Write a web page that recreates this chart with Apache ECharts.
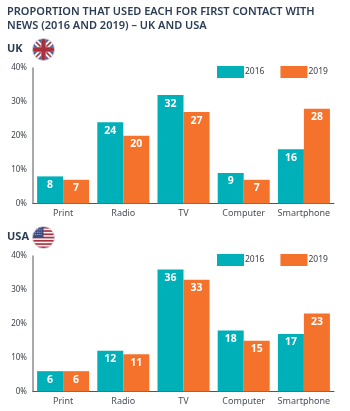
<!DOCTYPE html>
<html lang="en">
    <head>
        <meta charset="UTF-8">
        <script src="https://cdn.jsdelivr.net/npm/echarts@6/dist/echarts.min.js"></script>
        <title>First contact with news - UK and USA</title>
        <style>
            html, body { margin: 0; padding: 0; background: #fff; }
        </style>
    </head>
    <body>
        <div id="chart-container" style="width: 350px; height: 411px;"></div>

        <script>
            // values as printed on the bars
            const categories = ['Print', 'Radio', 'TV', 'Computer', 'Smartphone'];
            const years = ['2016', '2019'];
            const uk2016 = [8, 24, 32, 9, 16];
            const uk2019 = [7, 20, 27, 7, 28];
            const usa2016 = [6, 12, 36, 18, 17];
            const usa2019 = [6, 11, 33, 15, 23];

            const titleLines = 'PROPORTION THAT USED EACH FOR FIRST CONTACT WITH\nNEWS (2016 AND 2019) \u2013 UK AND USA';

            const teal = '#00b0b9';
            const orange = '#f4722b';
            const navy = '#2b3d55';
            const fontName = '"Noto Sans", sans-serif';

            // flags are just pictures, so inline svg is enough
            const ukFlag = 'data:image/svg+xml,' + encodeURIComponent(
                '<svg xmlns="http://www.w3.org/2000/svg" width="24" height="24" viewBox="0 0 24 24">' +
                '<defs><clipPath id="c"><circle cx="12" cy="12" r="11.5"/></clipPath></defs>' +
                '<g clip-path="url(#c)"><rect width="24" height="24" fill="#f2f2f4"/>' +
                '<path d="M5 1L10 6V1ZM14 1V6L19 1ZM1 5V10H6ZM23 5L18 10H23ZM1 14V19L6 14ZM18 14L23 19V14ZM5 23H10V18ZM14 18V23H19Z" fill="#5a6796"/>' +
                '<path d="M2 2L9 9M22 2L15 9M2 22L9 15M22 22L15 15" stroke="#b03a48" stroke-width="1.6"/>' +
                '<path d="M12 0V24M0 12H24" stroke="#a92f3d" stroke-width="4.5"/></g>' +
                '<circle cx="12" cy="12" r="11.5" fill="none" stroke="#d8d8dc" stroke-width="1"/></svg>');

            let usaStripes = '';
            for (let i = 0; i < 7; i++) {
                usaStripes += '<rect y="' + (1 + i * 3.4) + '" width="24" height="1.7" fill="#a92f3d"/>';
            }
            const usaFlag = 'data:image/svg+xml,' + encodeURIComponent(
                '<svg xmlns="http://www.w3.org/2000/svg" width="24" height="24" viewBox="0 0 24 24">' +
                '<defs><clipPath id="c"><circle cx="12" cy="12" r="11.5"/></clipPath></defs>' +
                '<g clip-path="url(#c)"><rect width="24" height="24" fill="#f2f2f4"/>' + usaStripes +
                '<rect width="12" height="12" fill="#3b4a80"/>' +
                '<path d="M3 4H11M3 6.5H11M3 9H11" stroke="#c9cde0" stroke-width="0.9" stroke-dasharray="1 1"/></g>' +
                '<circle cx="12" cy="12" r="11.5" fill="none" stroke="#d8d8dc" stroke-width="1"/></svg>');

            function makeGrid(top) {
                return { left: 33, width: 301, top: top, height: 135.5 };
            }

            function makeXAxis(gridIndex) {
                return {
                    type: 'category',
                    gridIndex: gridIndex,
                    data: categories,
                    axisLine: { lineStyle: { color: '#555', width: 1 } },
                    axisTick: { show: false },
                    axisLabel: { color: '#4a4f57', fontFamily: fontName, fontSize: 9, margin: 5, interval: 0 }
                };
            }

            function makeYAxis(gridIndex) {
                return {
                    type: 'value',
                    gridIndex: gridIndex,
                    min: 0,
                    max: 40,
                    interval: 10,
                    axisLine: { show: true, lineStyle: { color: '#8c8c8c', width: 1.5 } },
                    axisTick: { show: false },
                    splitLine: { show: false },
                    axisLabel: {
                        color: '#3a3f47',
                        fontFamily: fontName,
                        fontSize: 8,
                        margin: 6,
                        padding: [4, 0, 0, 0],
                        formatter: '{value}%'
                    }
                };
            }

            function makeSeries(name, values, color, axisIndex) {
                return {
                    name: name,
                    type: 'bar',
                    data: values,
                    xAxisIndex: axisIndex,
                    yAxisIndex: axisIndex,
                    barWidth: 26,
                    barGap: 0,
                    itemStyle: { color: color },
                    label: {
                        show: true,
                        position: 'insideTop',
                        distance: 3,
                        color: '#fff',
                        fontFamily: fontName,
                        fontWeight: 'bold',
                        fontSize: 10.5
                    }
                };
            }

            function makeLegend(top) {
                return {
                    data: years.map(name => ({ name: name, icon: 'rect' })),
                    left: 217,
                    top: top,
                    padding: 0,
                    itemWidth: 27,
                    itemHeight: 12,
                    itemGap: 16,
                    itemStyle: { borderWidth: 0 },
                    textStyle: { color: '#3a3f47', fontFamily: fontName, fontSize: 8.5, padding: [0, 0, 0, -4] }
                };
            }

            const chart = echarts.init(document.getElementById('chart-container'));
            chart.setOption({
                animation: false,
                backgroundColor: '#fff',
                title: {
                    text: titleLines,
                    left: 7,
                    top: 5,
                    padding: 0,
                    textStyle: { color: navy, fontFamily: fontName, fontSize: 11, fontWeight: 600, lineHeight: 14 }
                },
                grid: [makeGrid(68), makeGrid(256)],
                xAxis: [makeXAxis(0), makeXAxis(1)],
                yAxis: [makeYAxis(0), makeYAxis(1)],
                legend: [makeLegend(66), makeLegend(254)],
                series: [
                    makeSeries(years[0], uk2016, teal, 0),
                    makeSeries(years[1], uk2019, orange, 0),
                    makeSeries(years[0], usa2016, teal, 1),
                    makeSeries(years[1], usa2019, orange, 1)
                ],
                graphic: [
                    { type: 'text', left: 7, top: 43, style: { text: 'UK', fill: navy, font: 'bold 11px ' + fontName } },
                    { type: 'text', left: 7, top: 231, style: { text: 'USA', fill: navy, font: 'bold 11px ' + fontName } },
                    { type: 'image', left: 32, top: 38, style: { image: ukFlag, width: 23, height: 23 } },
                    { type: 'image', left: 32, top: 226, style: { image: usaFlag, width: 23, height: 23 } }
                ]
            });
        </script>
    </body>
</html>
